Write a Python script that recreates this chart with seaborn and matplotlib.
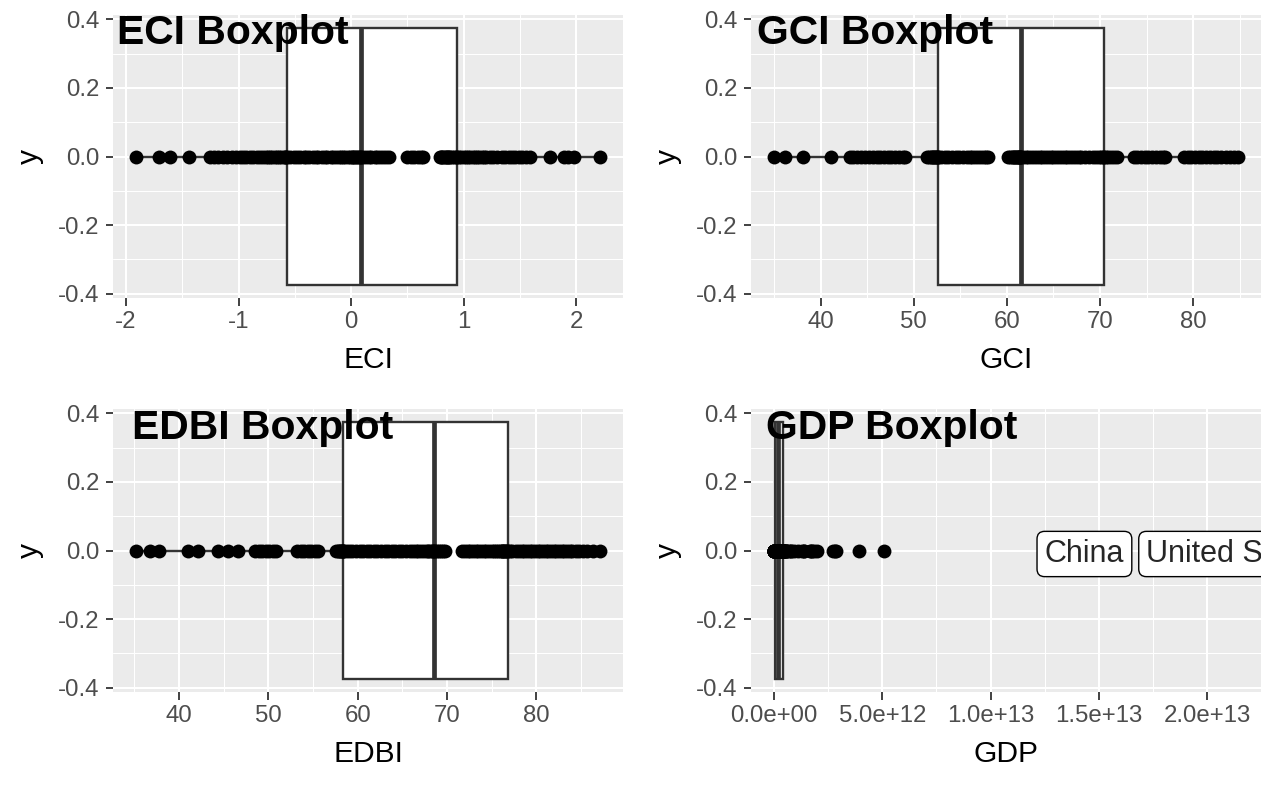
import numpy as np
import matplotlib
matplotlib.use("Agg")
import matplotlib.pyplot as plt
from matplotlib.ticker import MultipleLocator, FixedLocator, FuncFormatter
import seaborn as sns

# values (one value per country)
eci = [-1.91, -1.71, -1.61, -1.44, -1.25, -1.22, -1.18, -1.14, -1.10, -1.06,
       -1.02, -0.99, -0.96, -0.93, -0.90, -0.87, -0.84, -0.81, -0.78, -0.76,
       -0.74, -0.72, -0.70, -0.68, -0.66, -0.64, -0.62, -0.60, -0.59, -0.58,
       -0.57, -0.54, -0.51, -0.48, -0.45, -0.42, -0.40, -0.37, -0.34, -0.31,
       -0.29, -0.26, -0.23, -0.21, -0.18, -0.16, -0.13, -0.11, -0.09, -0.07,
       -0.05, -0.03, -0.01, 0.01, 0.02, 0.03, 0.04, 0.05, 0.07, 0.08,
       0.09, 0.11, 0.13, 0.16, 0.18, 0.21, 0.23, 0.26, 0.28, 0.31,
       0.34, 0.50, 0.53, 0.56, 0.59, 0.62, 0.64, 0.79, 0.80, 0.81,
       0.82, 0.83, 0.84, 0.85, 0.86, 0.87, 0.88, 0.90, 0.91, 0.93,
       0.94, 0.96, 0.98, 1.00, 1.02, 1.04, 1.06, 1.08, 1.10, 1.12,
       1.14, 1.16, 1.18, 1.20, 1.23, 1.26, 1.30, 1.34, 1.37, 1.40,
       1.43, 1.46, 1.49, 1.52, 1.55, 1.59, 1.77, 1.89, 1.93, 1.98, 2.21]

gci = [35.0, 36.2, 38.1, 41.1, 43.1, 43.5, 43.9, 44.3, 44.8, 45.2,
       45.6, 46.0, 46.4, 46.8, 47.2, 47.6, 48.0, 48.4, 48.8, 49.1,
       51.4, 51.6, 51.8, 52.0, 52.1, 52.2, 52.3, 52.4, 52.5, 52.55,
       52.6, 52.9, 53.3, 53.7, 54.1, 54.5, 54.9, 55.3, 55.7, 56.0,
       56.3, 56.6, 56.9, 57.2, 57.5, 57.8, 58.0, 60.1, 60.3, 60.5,
       60.7, 60.8, 60.9, 61.0, 61.1, 61.2, 61.3, 61.35, 61.4, 61.45,
       61.5, 61.7, 62.0, 62.3, 62.6, 62.9, 63.2, 63.5, 63.8, 64.1,
       64.4, 64.7, 65.0, 65.3, 65.6, 65.9, 66.2, 66.5, 66.8, 67.1,
       67.4, 67.7, 68.0, 68.4, 68.8, 69.2, 69.6, 69.9, 70.1, 70.3,
       70.4, 70.6, 70.9, 71.2, 71.5, 71.8, 73.7, 74.0, 74.4, 74.8,
       75.2, 75.6, 76.0, 76.4, 76.8, 77.0, 79.0, 79.4, 79.8, 80.2,
       80.6, 81.0, 81.4, 81.8, 82.2, 82.6, 83.0, 83.5, 84.0, 84.4, 84.8]

edbi = [35.2, 36.7, 37.8, 41.0, 42.1, 44.4, 45.5, 46.6, 48.5, 48.9,
        49.3, 49.7, 50.1, 50.5, 50.8, 53.2, 53.6, 54.0, 54.4, 54.8,
        55.2, 55.6, 57.6, 57.75, 57.9, 58.0, 58.1, 58.2, 58.3, 58.35,
        58.4, 58.7, 59.0, 59.4, 59.8, 60.2, 60.6, 61.0, 61.4, 61.8,
        62.2, 62.6, 63.0, 63.4, 63.8, 64.2, 64.6, 65.0, 65.4, 65.8,
        66.2, 66.5, 66.8, 67.1, 67.4, 67.7, 67.9, 68.1, 68.3, 68.4,
        68.5, 68.7, 68.9, 69.1, 69.3, 69.5, 69.8, 71.7, 72.0, 72.3,
        72.6, 72.9, 73.2, 73.5, 73.8, 74.1, 74.4, 74.7, 75.0, 75.3,
        75.5, 75.7, 75.9, 76.1, 76.2, 76.3, 76.4, 76.5, 76.6, 76.7,
        76.8, 77.1, 77.3, 77.7, 78.0, 78.4, 78.6, 78.9, 79.3, 79.5,
        79.8, 80.2, 80.4, 80.7, 81.1, 81.3, 81.6, 82.0, 82.2, 82.5,
        82.9, 83.1, 83.4, 83.8, 84.0, 84.4, 84.8, 85.2, 85.7, 86.3, 87.1]

# GDP in trillions of US$
gdp_trillion = [0.002, 0.003, 0.003, 0.004, 0.005, 0.006, 0.007, 0.008, 0.009, 0.010,
                0.011, 0.012, 0.013, 0.014, 0.015, 0.016, 0.018, 0.020, 0.020, 0.022,
                0.025, 0.025, 0.028, 0.030, 0.030, 0.030, 0.035, 0.035, 0.040, 0.040,
                0.040, 0.04, 0.04, 0.05, 0.05, 0.05, 0.05, 0.05, 0.06, 0.06,
                0.06, 0.06, 0.07, 0.07, 0.07, 0.08, 0.08, 0.09, 0.09, 0.10,
                0.10, 0.11, 0.11, 0.12, 0.13, 0.14, 0.15, 0.16, 0.17, 0.18,
                0.19, 0.19, 0.19, 0.19, 0.19, 0.20, 0.20, 0.20, 0.21, 0.21,
                0.22, 0.22, 0.23, 0.23, 0.24, 0.25, 0.25, 0.26, 0.27, 0.28,
                0.30, 0.32, 0.33, 0.34, 0.35, 0.36, 0.37, 0.39, 0.40, 0.41,
                0.43, 0.44, 0.44, 0.44, 0.45, 0.45, 0.45, 0.53, 0.53, 0.54,
                0.59, 0.70, 0.76, 0.79, 0.91, 1.12, 1.27, 1.39, 1.39, 1.65,
                1.70, 1.74, 1.84, 2.00, 2.72, 2.83, 2.87, 3.90, 5.08, 14.34, 21.43]
gdp = [v * 1e12 for v in gdp_trillion]

label_names = ["China", "United States"]
label_gdp = [14.34e12, 21.43e12]

sns.set_theme(style="darkgrid")
plt.rcParams['font.family'] = ['Liberation Sans', 'DejaVu Sans']
plt.rcParams['axes.unicode_minus'] = False

W, H = 1276, 788
fig = plt.figure(figsize=(W / 100, H / 100), dpi=100)
fig.patch.set_facecolor('white')


def add_px_axes(left, top, right, bottom):
    return fig.add_axes([left / W, 1 - bottom / H, (right - left) / W, (bottom - top) / H])


def sci_fmt(x, pos):
    return f"{x:.1e}"


panels = [
    (eci, "ECI", (113, 15, 623, 298), 1, None, (117, 44)),
    (gci, "GCI", (751, 15, 1261, 298), 10, None, (757, 44)),
    (edbi, "EDBI", (113, 409, 623, 692), 10, None, (132, 439)),
    (gdp, "GDP", (751, 409, 1261, 692), 5e12, sci_fmt, (766, 439)),
]

for vals, name, rect, step, fmt, title_xy in panels:
    ax = add_px_axes(*rect)
    ax.set_facecolor('#EBEBEB')

    sns.boxplot(x=vals, ax=ax, orient='h', width=0.75, color='white',
                linecolor='#333333', linewidth=1.7, showfliers=False,
                showcaps=False, medianprops={'linewidth': 3.4})
    sns.scatterplot(x=vals, y=np.zeros(len(vals)), ax=ax, color='black',
                    s=100, linewidth=0, zorder=3)

    if name == "GDP":
        for lab, xv in zip(label_names, label_gdp):
            ax.text(xv, 0, lab, ha='center', va='center_baseline', fontsize=22,
                    zorder=5, clip_on=True,
                    bbox=dict(boxstyle='round,pad=0.25,rounding_size=0.25',
                              fc='white', ec='black', lw=1.0))

    lo, hi = min(vals), max(vals)
    pad = 0.05 * (hi - lo)
    ax.set_xlim(lo - pad, hi + pad)
    ax.set_ylim(-0.4125, 0.4125)

    ax.xaxis.set_major_locator(MultipleLocator(step))
    ax.xaxis.set_minor_locator(MultipleLocator(step / 2))
    if fmt is not None:
        ax.xaxis.set_major_formatter(FuncFormatter(fmt))
    else:
        ax.xaxis.set_major_formatter(FuncFormatter(lambda x, p: f"{x:g}"))
    ax.yaxis.set_major_locator(FixedLocator([-0.4, -0.2, 0.0, 0.2, 0.4]))
    ax.yaxis.set_minor_locator(FixedLocator([-0.3, -0.1, 0.1, 0.3]))
    ax.yaxis.set_major_formatter(FuncFormatter(lambda y, p: f"{y:.1f}"))

    ax.set_axisbelow(True)
    ax.grid(True, which='major', color='white', linewidth=1.5)
    ax.grid(True, which='minor', color='white', linewidth=0.75)
    for s in ax.spines.values():
        s.set_visible(False)
    ax.tick_params(which='major', length=5.4, width=1.3, color='#333333',
                   labelsize=17.3, labelcolor='#4D4D4D', pad=4.3,
                   bottom=True, left=True)
    ax.tick_params(which='minor', length=0)

    ax.set_xlabel(name, fontsize=21.6, color='black', labelpad=9)
    ax.set_ylabel("y", fontsize=21.6, color='black', labelpad=10)

    fig.text(title_xy[0] / W, 1 - title_xy[1] / H, f"{name} Boxplot",
             fontsize=29.4, fontweight='bold', color='black',
             ha='left', va='baseline', zorder=10)

fig.savefig("out.png", dpi=100)
